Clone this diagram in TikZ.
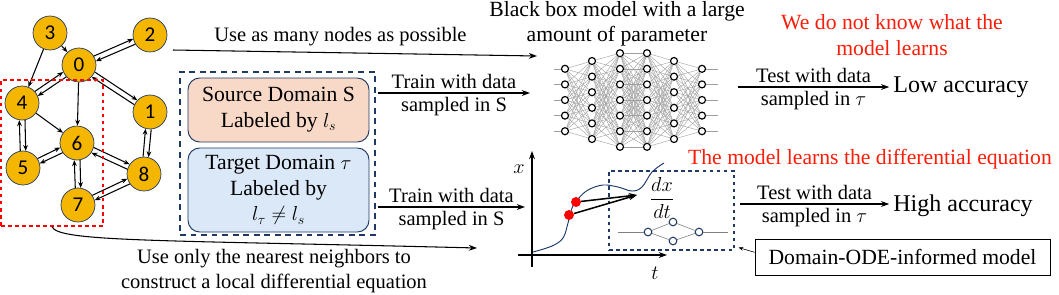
\documentclass[tikz,border=0pt]{standalone}
\usepackage{amsmath}
\usepackage{fontspec}
\setmainfont{Liberation Serif}
\newfontfamily\digitfont{Carlito}
\usetikzlibrary{arrows.meta,positioning,calc,fit}
\definecolor{gold}{RGB}{245,182,0}
\definecolor{navy}{RGB}{31,56,100}
\definecolor{peach}{RGB}{248,216,198}
\definecolor{skyfill}{RGB}{218,232,247}
\definecolor{alertred}{RGB}{250,30,10}
\definecolor{curveblue}{RGB}{25,55,105}

% pair of opposite arrows between two vertices
\newcommand{\twoway}[2]{%
  \draw[link] let \p1=($(#2)-(#1)$), \n1={atan2(\y1,\x1)+9}, \n2={atan2(\y1,\x1)+171}
    in (#1.\n1) -- (#2.\n2);
  \draw[link] let \p1=($(#1)-(#2)$), \n1={atan2(\y1,\x1)+9}, \n2={atan2(\y1,\x1)+171}
    in (#2.\n1) -- (#1.\n2);
}

\begin{document}
\begin{tikzpicture}[x=0.03cm, y=-0.03cm,
  vertex/.style={circle, draw=navy, line width=0.6pt, fill=gold, minimum size=29pt,
                 inner sep=0pt, font=\digitfont\fontsize{18}{18}\selectfont},
  link/.style={-{Stealth[length=5pt,width=4pt]}, line width=0.9pt},
  arrow/.style={-{Stealth[length=7pt,width=5pt]}, line width=0.9pt},
  txt/.style={font=\fontsize{17.5}{22}\selectfont, align=center, inner sep=3pt},
  bigtxt/.style={font=\fontsize{18.5}{21}\selectfont, align=center},
  redtxt/.style={font=\fontsize{18.5}{22}\selectfont, align=center, text=alertred},
  domainbox/.style={draw=navy, line width=0.8pt, rounded corners=10pt, minimum width=5.43cm,
                 font=\fontsize{18.5}{22}\selectfont, align=center},
  navydash/.style={draw=navy, dashed, line width=0.9pt, inner sep=0pt},
  neuron/.style={circle, draw, fill=white, line width=1pt, minimum size=6pt, inner sep=0pt},
  synapse/.style={gray!75, line width=0.35pt},
  cell/.style={circle, draw=navy, fill=white, line width=0.9pt, minimum size=6.5pt, inner sep=0pt},
  sample/.style={circle, fill=red, minimum size=8.5pt, inner sep=0pt}
]
\useasboundingbox (0,0) rectangle (1059,294);

% Graph of nodes
\node[vertex] (v3) at (50,33) {3};
\node[vertex] (v2) at (150,35) {2};
\node[vertex] (v0) at (79,65) {0};
\node[vertex] (v4) at (22,103) {4};
\node[vertex] (v1) at (150,112) {1};
\node[vertex] (v6) at (77,143) {6};
\node[vertex] (v5) at (23,168) {5};
\node[vertex] (v8) at (144,174) {8};
\node[vertex] (v7) at (78,205) {7};

\draw[link] (v3) -- (v0);
\draw[link] (v3) -- (v4);
\draw[link] (v0) -- (v6);
\draw[link] (v4) -- (v6);
\twoway{v0}{v2}
\twoway{v0}{v4}
\twoway{v0}{v1}
\twoway{v4}{v5}
\twoway{v6}{v5}
\twoway{v6}{v7}
\twoway{v6}{v8}
\twoway{v8}{v7}
\twoway{v1}{v8}

% Local neighbourhood
\node[draw=red, dashed, line width=1.2pt, inner sep=0pt, fit={(1,80) (103,226)}] (local) {};

% Source and target domains
\node[navydash, line width=1.6pt, dash pattern=on 5pt off 4pt, fit={(180,72) (375,235)}] (dom) {};
\node[domainbox, fill=peach, minimum height=1.92cm] (S) at (278.5,110)
  {Source Domain S\\Labeled by $l_s$};
\node[domainbox, fill=skyfill, minimum height=2.52cm] (T) at (278.5,190)
  {Target Domain $\tau$\\Labeled by\\$l_\tau \neq l_s$};

% Upper path: black box
\coordinate (many) at (173,50);
\coordinate (bbin) at (537,56);
\draw[arrow] (many) -- node[pos=0.46, above, txt, inner sep=5pt] {Use as many nodes as possible} (bbin);

\coordinate (tr1) at (378,93);
\coordinate (tr1e) at (530,93);
\draw[arrow] (tr1) -- node[above, txt] {Train with data} node[below, txt] {sampled in S} (tr1e);

\node[bigtxt] (bbtitle) at (617,24) {Black box model with a large\\amount of parameter};

\foreach \l/\n/\x in {1/5/565, 2/6/592, 3/7/620, 4/7/647, 5/6/674, 6/5/702}
  \foreach \i in {1,...,\n}
    \node[neuron] (n\l-\i) at (\x,{100+(\i-(\n+1)/2)*15.6}) {};
\foreach \l/\m/\a/\b in {1/2/5/6, 2/3/6/7, 3/4/7/7, 4/5/7/6, 5/6/6/5}
  \foreach \i in {1,...,\a}
    \foreach \j in {1,...,\b}
      \draw[synapse] (n\l-\i) -- (n\m-\j);
\foreach \i in {1,...,5} {
  \draw[synapse] (n1-\i) -- ++(-11,0);
  \draw[synapse] (n6-\i) -- ++(16,0);
}

\node[redtxt] (unknown) at (892,35) {We do not know what the\\model learns};

\coordinate (ts1) at (738,87);
\node[font=\fontsize{20.5}{24}\selectfont] (low) at (961,87) {Low accuracy};
\draw[arrow] (ts1) -- node[above, txt] {Test with data} node[below, txt] {sampled in $\tau$} (ts1 -| low.west);

% Lower path: ODE-informed model
\coordinate (tr2) at (378,207);
\coordinate (tr2e) at (525,207);
\draw[arrow] (tr2) -- node[above, txt] {Train with data} node[below, txt] {sampled in S} (tr2e);

\coordinate (near) at (477,248);
\draw[arrow] (local.south) .. controls (58,242) and (160,240) .. (near);
\node[txt] (nearlbl) at (274,271) {Use only the nearest neighbors to\\construct a local differential equation};

% ODE plot
\coordinate (xo) at (518,255);
\coordinate (xe) at (667,255);
\coordinate (yo) at (532,267);
\coordinate (ye) at (532,151);
\draw[arrow] (xo) -- (xe);
\draw[arrow] (yo) -- (ye);
\node[font=\fontsize{18}{18}\selectfont] (xlbl) at (519,169) {$x$};
\node[font=\fontsize{18}{18}\selectfont] (tlbl) at (655,273) {$t$};

\node[navydash, fit={(609,171) (734,250)}] (dbox) {};
\draw[curveblue, line width=0.8pt] plot[smooth, tension=0.6] coordinates
  {(533,252) (552,246) (563,238) (568,223) (572,208) (578,199) (588,190) (603,185)
   (618,187) (632,191) (642,187) (652,172) (664,163)};

\node[sample] (p2) at (569,215) {};
\node[sample] (p1) at (576,202) {};
\coordinate (slope) at (637,195);
\draw[arrow, line width=1.3pt] (p1) -- (slope);
\draw[arrow, line width=1.3pt] (p2) -- (slope);
\node[font=\fontsize{17}{20}\selectfont] (dxdt) at (662,198) {$\displaystyle\frac{dx}{dt}$};

\node[cell] (c1) at (648,232) {};
\node[cell] (c2) at (673,222) {};
\node[cell] (c3) at (673,241) {};
\node[cell] (c4) at (699,232) {};
\draw[synapse, gray, line width=0.5pt] (c1) -- ++(-30,0);
\draw[synapse, gray, line width=0.5pt] (c4) -- ++(29,0);
\foreach \a/\b in {c1/c2, c1/c3, c2/c4, c3/c4}
  \draw[synapse, gray, line width=0.5pt] (\a) -- (\b);

\node[redtxt] (learns) at (870,159) {The model learns the differential equation};

\coordinate (ts2) at (740,204);
\node[font=\fontsize{20.5}{24}\selectfont] (high) at (963,206) {High accuracy};
\draw[arrow] (ts2) -- node[above, txt] {Test with data} node[below, txt] {sampled in $\tau$} (ts2 -| high.west);

\node[draw, line width=0.6pt, minimum width=8.85cm, minimum height=1.08cm,
      font=\fontsize{18.5}{22}\selectfont] (odem) at (902.5,257) {Domain-ODE-informed model};
\draw[-{Stealth[length=4pt,width=3pt]}, line width=0.5pt] ([yshift=4pt]odem.west) -- ([shift={(4,-3)}]dbox.south east);

\end{tikzpicture}
\end{document}
